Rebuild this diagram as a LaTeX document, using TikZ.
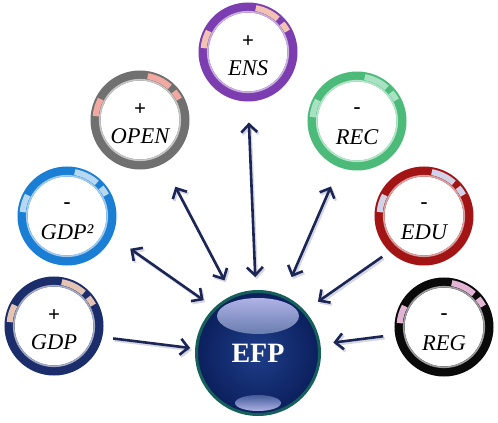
\documentclass[tikz,border=0pt]{standalone}
\usepackage{fontspec}
\setmainfont{Liberation Serif}
\usetikzlibrary{arrows.meta}
\definecolor{cgdp}{HTML}{1B2D6B}\definecolor{hgdp}{HTML}{E6C4B4}
\definecolor{cgdpsq}{HTML}{1A7ED4}\definecolor{hgdpsq}{HTML}{B6D8F2}
\definecolor{copen}{HTML}{707070}\definecolor{hopen}{HTML}{F0A8A0}
\definecolor{cens}{HTML}{7B3DB0}\definecolor{hens}{HTML}{F2C2B2}
\definecolor{crec}{HTML}{4CBB7A}\definecolor{hrec}{HTML}{A8E2C2}
\definecolor{cedu}{HTML}{A31515}\definecolor{hedu}{HTML}{D2D2E8}
\definecolor{creg}{HTML}{0A0A0A}\definecolor{hreg}{HTML}{E3B5D5}
\definecolor{efpdark}{HTML}{0B1F5C}\definecolor{efplight}{HTML}{1F3E8A}
\definecolor{efpedge}{HTML}{15605A}
\definecolor{arrowc}{HTML}{1C2656}
\tikzset{
  ringbox/.style={circle, minimum size=89pt, inner sep=0pt, outer sep=5pt, line width=10pt, fill=white},
  signtext/.style={inner sep=0pt, font=\fontsize{21}{24}\selectfont\bfseries},
  labeltext/.style={inner sep=0pt, font=\fontsize{22.5}{26}\selectfont\itshape},
  efptext/.style={inner sep=0pt, text=white, font=\fontsize{28}{32}\selectfont\bfseries},
  conn/.style={draw=arrowc, line width=2.6pt, {Straight Barb[length=8pt,width=16pt]}-{Straight Barb[length=8pt,width=16pt]}},
  conn1/.style={draw=arrowc, line width=2.6pt, -{Straight Barb[length=8pt,width=16pt]}},
  shadowc/.style={draw=black, opacity=0.18}
}
\newcommand\ringnode[7]{%
  \node[ringbox, draw=#4] (#1) at (#2,#3) {};
  \draw[line width=1.6pt, draw=#4!40!white] (#1.center) circle[radius=40.3pt];
  \draw[line width=6pt, draw=#5] ([shift={(48:44.5pt)}]#1.center) arc[start angle=48, end angle=80, radius=44.5pt];
  \draw[line width=6pt, draw=#5] ([shift={(28:44.5pt)}]#1.center) arc[start angle=28, end angle=40, radius=44.5pt];
  \draw[line width=6pt, draw=#5] ([shift={(152:44.5pt)}]#1.center) arc[start angle=152, end angle=175, radius=44.5pt];
  \node[signtext] (#1s) at ([yshift=10pt]#1.center) {#6};
  \node[labeltext] (#1l) at ([yshift=-16pt]#1.center) {#7};
}
\newcommand\allconns{%
  \draw[conn1, shorten <=11pt, shorten >=5pt] (gdp.-13) -- (efp.176);
  \draw[conn, shorten <=22pt, shorten >=13pt] (gdpsq.-24) -- (efp.134);
  \draw[conn, shorten <=26pt, shorten >=17pt] (open.-62) -- (efp.114);
  \draw[conn, shorten <=21pt, shorten >=13pt] (ens.-90) -- (efp.92);
  \draw[conn, shorten <=21pt, shorten >=20pt] (rec.-111) -- (efp.66);
  \draw[conn1, shorten <=9pt, shorten >=16pt] (edu.226) -- (efp.42);
  \draw[conn1, shorten <=12pt, shorten >=13pt] (reg.189) -- (efp.8);
}
\begin{document}
\begin{tikzpicture}[x=1pt,y=1pt]
\fill[white] (0,0) rectangle (498,423);
\useasboundingbox (0,0) rectangle (498,423);
\ringnode{gdp}{54}{97}{cgdp}{hgdp}{+}{GDP}
\ringnode{gdpsq}{67}{207}{cgdpsq}{hgdpsq}{-}{GDP²}
\ringnode{open}{140}{303}{copen}{hopen}{+}{OPEN}
\ringnode{ens}{248}{371}{cens}{hens}{+}{ENS}
\ringnode{rec}{357}{302}{crec}{hrec}{-}{REC}
\ringnode{edu}{424}{207}{cedu}{hedu}{-}{EDU}
\ringnode{reg}{444}{96}{creg}{hreg}{-}{REG}
\node[circle, minimum size=123pt, inner sep=0pt, outer sep=1.5pt, draw=efpedge, line width=3pt, inner color=efplight, outer color=efpdark] (efp) at (258,70) {};
\shade[top color=white!80!blue, bottom color=efplight!60!white, opacity=0.85] ([yshift=37pt]efp.center) ellipse[x radius=41pt, y radius=18pt];
\shade[top color=efplight!80!white, bottom color=white!80!blue, opacity=0.85] ([yshift=-50pt]efp.center) ellipse[x radius=23pt, y radius=8pt];
\node[efptext] (efpl) at (efp.center) {EFP};
\begin{scope}[transform canvas={shift={(1.5pt,-2pt)}}, every path/.append style={shadowc}]
\allconns
\end{scope}
\allconns
\end{tikzpicture}
\end{document}
